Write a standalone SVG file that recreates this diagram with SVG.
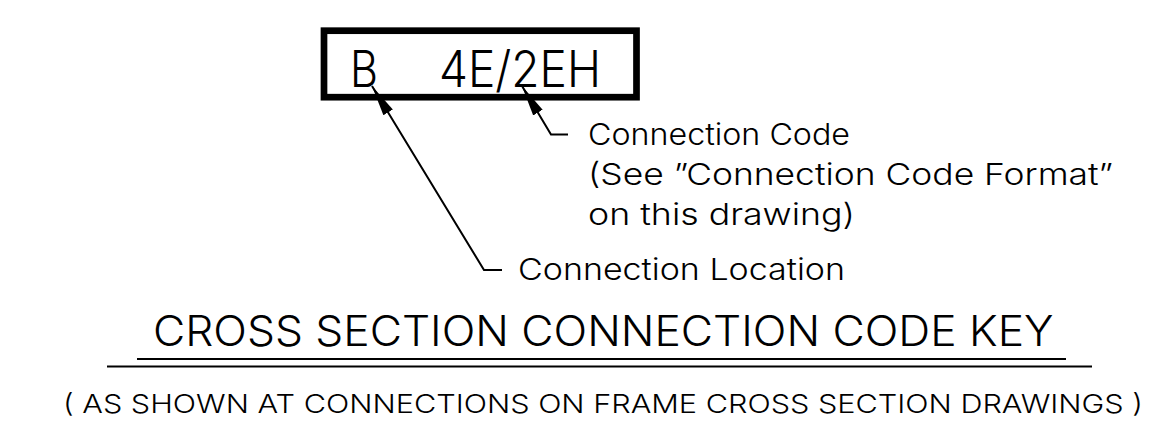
<svg xmlns="http://www.w3.org/2000/svg" width="1175" height="445" viewBox="0 0 1175 445">
<style>
text{font-family:Inter,"Liberation Sans","DejaVu Sans",sans-serif;font-weight:300;fill:#000;}
.conn{fill:none;stroke:#000;stroke-width:2;}
.rule{stroke:#000;stroke-width:2.2;}
</style>
<defs>
<marker id="arrow" markerUnits="userSpaceOnUse" viewBox="-31 -7 32 14" markerWidth="32" markerHeight="14" refX="0" refY="0" orient="auto-start-reverse">
<path d="M0,0 L-31,-5.5 L-31,5.5 Z" fill="#000"/>
</marker>
</defs>
<rect width="1175" height="445" fill="#fff"/>
<g id="code-box">
<rect x="324" y="30.7" width="312.5" height="66.5" fill="none" stroke="#000" stroke-width="6.7"/>
<text x="350" y="86.7" font-size="50" textLength="28" lengthAdjust="spacingAndGlyphs">B</text>
<text x="439" y="86.7" font-size="50" textLength="162" lengthAdjust="spacingAndGlyphs">4E/2EH</text>
</g>
<g id="connectors">
<path class="conn" d="M372,86 L484,270 L502,270" marker-start="url(#arrow)"/>
<path class="conn" d="M522,86 L551,134.5 L568,134.5" marker-start="url(#arrow)"/>
</g>
<g id="connection-code-label">
<text x="588" y="145" font-size="30" textLength="262" lengthAdjust="spacingAndGlyphs">Connection Code</text>
<text x="588" y="185" font-size="30" textLength="525" lengthAdjust="spacingAndGlyphs">(See ”Connection Code Format”</text>
<text x="588" y="225" font-size="30" textLength="267" lengthAdjust="spacingAndGlyphs">on this drawing)</text>
</g>
<g id="connection-location-label">
<text x="518" y="280" font-size="30" textLength="327" lengthAdjust="spacingAndGlyphs">Connection Location</text>
</g>
<g id="title">
<text x="153" y="345.5" font-size="42" textLength="900.5" lengthAdjust="spacingAndGlyphs">CROSS SECTION CONNECTION CODE KEY</text>
<line class="rule" x1="137" y1="359" x2="1066" y2="359"/>
<line class="rule" x1="107" y1="366.5" x2="1092" y2="366.5"/>
</g>
<g id="subtitle">
<text x="63" y="412.5" font-size="26" textLength="1080" lengthAdjust="spacingAndGlyphs">( AS SHOWN AT CONNECTIONS ON FRAME CROSS SECTION DRAWINGS )</text>
</g>
</svg>
